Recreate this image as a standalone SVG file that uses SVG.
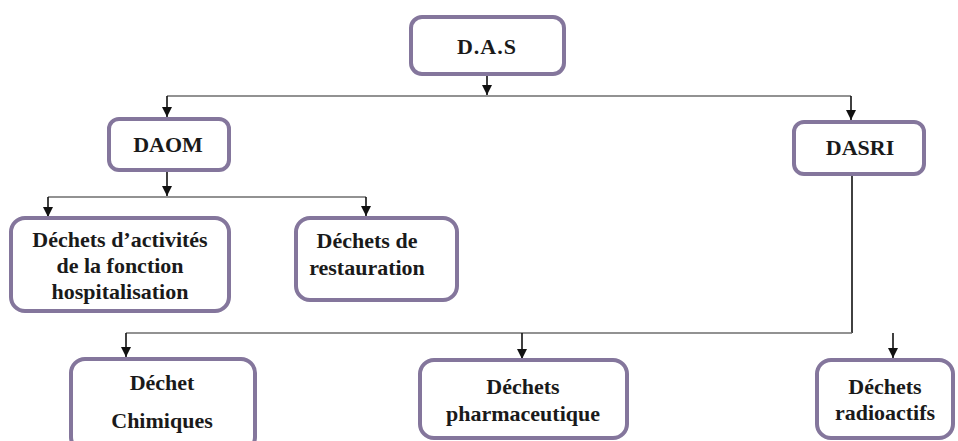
<svg xmlns="http://www.w3.org/2000/svg" width="958" height="441" viewBox="0 0 958 441">
<defs>
<marker id="ah" markerUnits="userSpaceOnUse" markerWidth="11" markerHeight="10" refX="10" refY="5" orient="auto" viewBox="0 0 11 10">
<path d="M0,0 L10,5 L0,10 Z" fill="#111"/>
</marker>
</defs>
<style>
.box{fill:#fff;stroke:#84769c;stroke-width:4}
.t{font-weight:bold;font-size:22px;fill:#1a1a1a;text-anchor:middle}
.h{stroke:#6e6e6e;stroke-width:1.6;fill:none}
.v{stroke:#111;stroke-width:1.6;fill:none}
.a{stroke:#111;stroke-width:1.6;fill:none;marker-end:url(#ah)}
</style>
<rect width="958" height="441" fill="#fff"/>
<g id="connectors">
<path class="a" d="M487,75 V95"/>
<path class="h" d="M167,96 H851"/>
<path class="a" d="M167,96 V117"/>
<path class="a" d="M851,96 V120"/>
<path class="a" d="M167,171 V196"/>
<path class="h" d="M48,197 H366"/>
<path class="a" d="M48,197 V217"/>
<path class="a" d="M366,197 V216"/>
<path class="v" d="M852,175 V333"/>
<path class="h" d="M126,333 H852"/>
<path class="a" d="M126,333 V357"/>
<path class="a" d="M522,333 V359"/>
<path class="a" d="M893,333 V358"/>
</g>
<g font-family="'Liberation Serif', 'Times New Roman', 'DejaVu Serif', serif">
<g id="das">
<rect class="box" x="411" y="17" width="153" height="57" rx="11"/>
<text class="t" x="487" y="54" font-size="26" letter-spacing="1">D.A.S</text>
</g>
<g id="daom">
<rect class="box" x="109" y="119" width="120" height="51" rx="10"/>
<text class="t" x="168" y="152">DAOM</text>
</g>
<g id="dasri">
<rect class="box" x="794" y="122" width="130" height="52" rx="10"/>
<text class="t" x="860" y="155">DASRI</text>
</g>
<g id="activites">
<rect class="box" x="11" y="218" width="218" height="93" rx="14"/>
<text class="t" x="120" y="247">Déchets d’activités</text>
<text class="t" x="120" y="273">de la fonction</text>
<text class="t" x="120" y="299">hospitalisation</text>
</g>
<g id="restauration">
<rect class="box" x="296" y="218" width="161" height="82" rx="14"/>
<text class="t" x="367" y="248">Déchets de</text>
<text class="t" x="367" y="275">restauration</text>
</g>
<g id="chimiques">
<rect class="box" x="71" y="359" width="184" height="92" rx="14"/>
<text class="t" x="162" y="390">Déchet</text>
<text class="t" x="162" y="428">Chimiques</text>
</g>
<g id="pharmaceutique">
<rect class="box" x="420" y="360" width="207" height="78" rx="14"/>
<text class="t" x="523" y="394">Déchets</text>
<text class="t" x="523" y="421">pharmaceutique</text>
</g>
<g id="radioactifs">
<rect class="box" x="817" y="360" width="136" height="78" rx="14"/>
<text class="t" x="885" y="394">Déchets</text>
<text class="t" x="885" y="420">radioactifs</text>
</g>
</g>
</svg>
